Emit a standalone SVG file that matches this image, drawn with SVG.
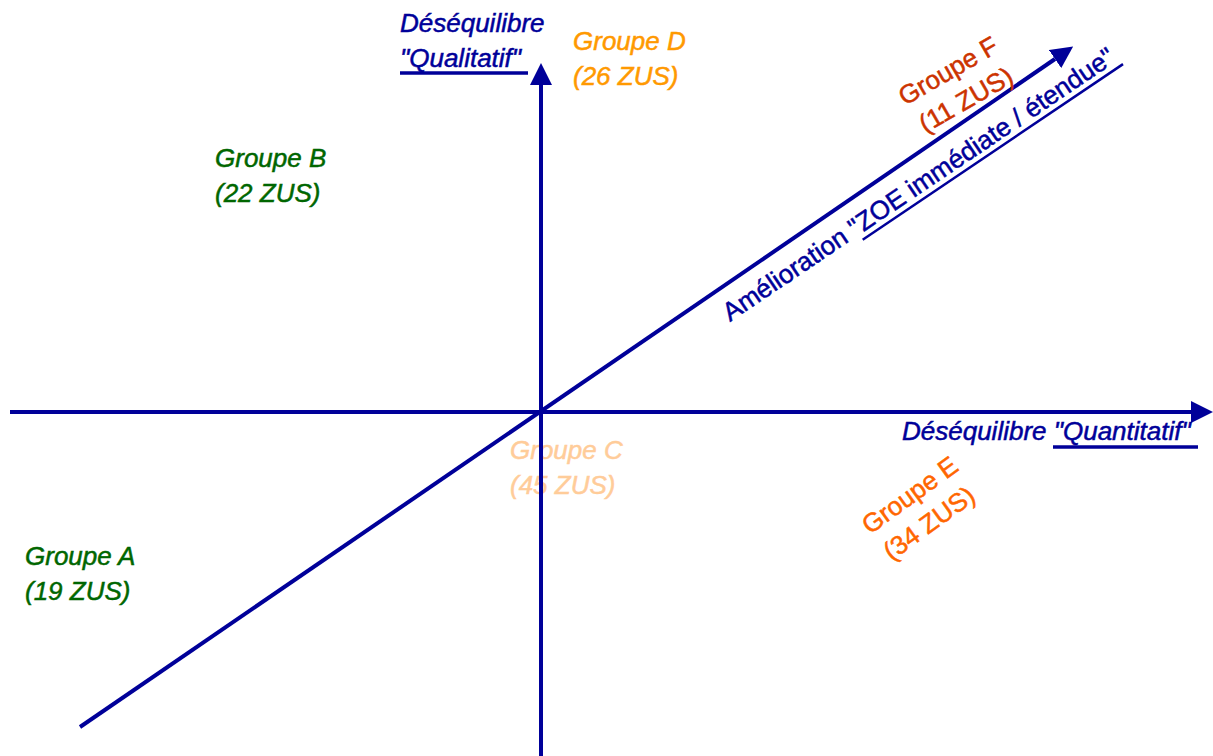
<svg xmlns="http://www.w3.org/2000/svg" width="1213" height="756" viewBox="0 0 1213 756">
<style>
text{font-family:"Liberation Sans",Arial,sans-serif;font-size:26px;font-style:italic;stroke-width:0.5}
text.up{font-style:normal}
.blue{fill:#000099;stroke:#000099}
.axis{stroke:#000099;stroke-width:4;fill:none}
.ul{stroke:#000099;stroke-width:3.5}
.green{fill:#006600;stroke:#006600}
</style>
<defs>
<marker id="arr" viewBox="0 0 22 22" refX="0" refY="11" markerWidth="22" markerHeight="22" markerUnits="userSpaceOnUse" orient="auto">
<path d="M0,0 L22,11 L0,22 Z" fill="#000099"/>
</marker>
</defs>
<rect width="1213" height="756" fill="#ffffff"/>
<g id="groupe-c" fill="#FFCC99" stroke="#FFCC99">
<text x="510" y="459">Groupe C</text>
<text x="510" y="494">(45 ZUS)</text>
</g>
<g id="connectors">
<line class="axis" x1="10" y1="412" x2="1191" y2="412" marker-end="url(#arr)"/>
<line class="axis" x1="541" y1="756" x2="541" y2="85" marker-end="url(#arr)"/>
<line class="axis" x1="80" y1="727" x2="1055" y2="59" marker-end="url(#arr)"/>
</g>
<g id="axis-qualitatif">
<text class="blue" x="400" y="32">Déséquilibre</text>
<text class="blue" x="400" y="67">"Qualitatif"</text>
<line class="ul" x1="400" y1="73" x2="528" y2="73"/>
</g>
<g id="axis-quantitatif">
<text class="blue" x="902" y="440">Déséquilibre "Quantitatif"</text>
<line class="ul" x1="1053" y1="447" x2="1198" y2="447"/>
</g>
<g id="axis-amelioration" transform="translate(730,322) rotate(-34)">
<text class="blue up" x="0" y="0">Amélioration "ZOE immédiate / étendue"</text>
<line stroke="#000099" stroke-width="2.5" x1="156" y1="6" x2="470" y2="6"/>
</g>
<g id="groupe-a" class="green">
<text x="25" y="565">Groupe A</text>
<text x="25" y="600">(19 ZUS)</text>
</g>
<g id="groupe-b" class="green">
<text x="215" y="167">Groupe B</text>
<text x="215" y="202">(22 ZUS)</text>
</g>
<g id="groupe-d" fill="#FF9900" stroke="#FF9900">
<text x="573" y="50">Groupe D</text>
<text x="573" y="85">(26 ZUS)</text>
</g>
<g id="groupe-e" transform="translate(870,535) rotate(-36)" fill="#FF6600" stroke="#FF6600">
<text class="up" x="0" y="0">Groupe E</text>
<text class="up" x="2" y="34">(34 ZUS)</text>
</g>
<g id="groupe-f" transform="translate(905,106) rotate(-30)" fill="#CC3300" stroke="#CC3300">
<text class="up" x="0" y="0">Groupe F</text>
<text class="up" x="4" y="34">(11 ZUS)</text>
</g>
</svg>
